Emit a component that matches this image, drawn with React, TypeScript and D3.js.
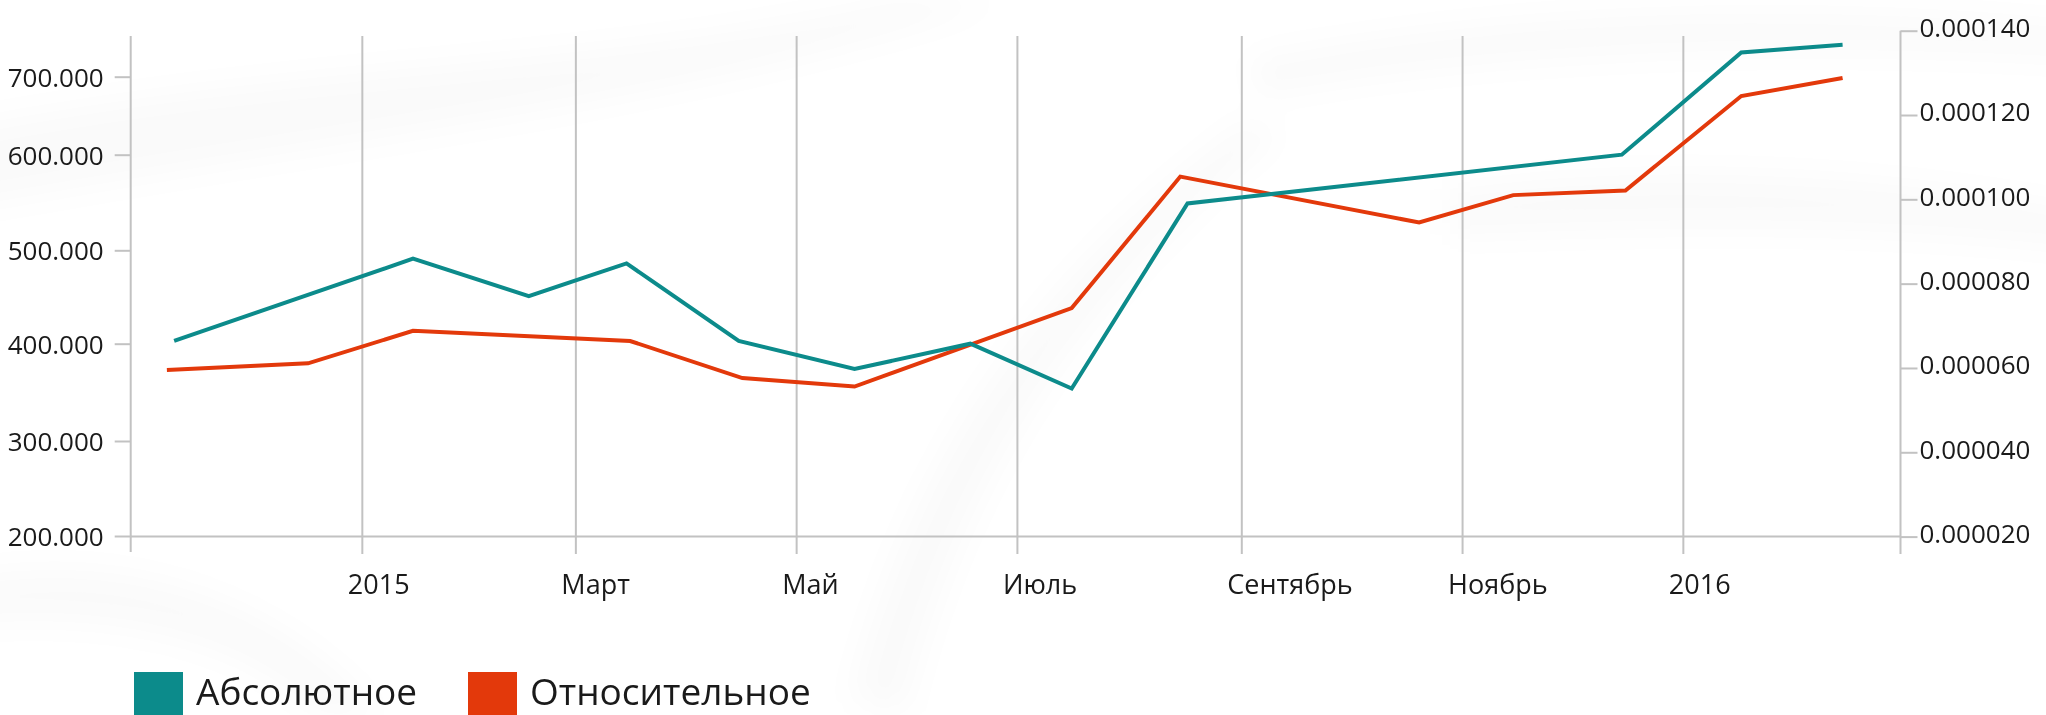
import { useEffect, useRef } from "react";
import * as d3 from "d3";

// Абсолютное (left axis)
const absDates = ["2014-11-10", "2015-01-15", "2015-02-16", "2015-03-15", "2015-04-15", "2015-05-17", "2015-06-18", "2015-07-16", "2015-08-17", "2015-12-15", "2016-01-17", "2016-02-14"];
const absValues = [403000, 491000, 451000, 486000, 403000, 374000, 400000, 354000, 549000, 600000, 731000, 741000];

// Относительное (right axis)
const relDates = ["2014-11-08", "2014-12-17", "2015-01-15", "2015-03-16", "2015-04-16", "2015-05-17", "2015-07-16", "2015-08-15", "2015-10-20", "2015-11-15", "2015-12-16", "2016-01-17", "2016-02-14"];
const relValues = [0.0000595, 0.0000611, 0.0000688, 0.0000664, 0.0000576, 0.0000556, 0.0000742, 0.0001054, 0.0000945, 0.000101, 0.0001021, 0.0001245, 0.0001288];

const xTickDates = ["2015-01-01", "2015-03-01", "2015-05-01", "2015-07-01", "2015-09-01", "2015-11-01", "2016-01-01"];
const xTickLabels = ["2015", "Март", "Май", "Июль", "Сентябрь", "Ноябрь", "2016"];
const leftTicks = [200000, 300000, 400000, 500000, 600000, 700000];
const rightTicks = [0.00002, 0.00004, 0.00006, 0.00008, 0.0001, 0.00012, 0.00014];
const seriesNames = ["Абсолютное", "Относительное"];
const colors = ["#0c8b8b", "#e3390b"];

function App() {
  const canvas = useRef<SVGSVGElement>(null);

  const drawChart = () => {
    const width = 2046;
    const height = 715;
    const left = 130.7;
    const right = 1900.5;
    const base = 536.5;
    const top = 36;
    const font = "'Open Sans', sans-serif";
    const parse = d3.timeParse("%Y-%m-%d");

    const svg = d3.select(canvas.current).attr("width", width).attr("height", height);
    svg.selectAll("*").remove();

    // faint smoke in the background
    const defs = svg.append("defs");
    defs.append("filter").attr("id", "blur").append("feGaussianBlur").attr("stdDeviation", 16);
    const bg = svg.append("g").attr("filter", "url(#blur)").attr("fill", "#000");
    const smoke = [
      "M-50,130 C300,60 600,70 900,0 L1000,0 C700,100 400,130 -50,210 Z",
      "M1450,190 C1650,160 1900,175 2100,215 L2100,250 C1900,225 1700,225 1450,235 Z",
      "M1250,60 C1500,10 1800,0 2100,30 L2100,60 C1800,40 1500,50 1260,95 Z",
      "M850,700 C900,500 1000,300 1250,120 L1280,135 C1050,320 950,520 905,715 Z",
      "M-50,580 C150,540 300,620 380,715 L320,715 C240,640 120,610 -50,625 Z",
    ];
    bg.selectAll("path").data(smoke).join("path").attr("d", d => d).attr("opacity", 0.02);

    const x = d3.scaleTime()
      .domain([parse("2014-10-29")!, parse("2016-03-01")!])
      .range([left, right]);
    const yL = d3.scaleLinear().domain(leftTicks).range([536, 441, 343.7, 250.3, 154.7, 76.7]);
    const yR = d3.scaleLinear().domain([0.00002, 0.00014]).range([536.6, 30.7]);

    const grid = "#c2c2c2";

    // vertical grid lines
    svg.append("g")
      .selectAll("line")
      .data(xTickDates)
      .join("line")
      .attr("x1", d => x(parse(d)!))
      .attr("x2", d => x(parse(d)!))
      .attr("y1", top)
      .attr("y2", 554)
      .attr("stroke", grid)
      .attr("stroke-width", 2);

    // axis lines
    svg.append("line").attr("x1", left).attr("x2", left).attr("y1", top).attr("y2", 552).attr("stroke", grid).attr("stroke-width", 2);
    svg.append("line").attr("x1", right).attr("x2", right).attr("y1", yR(0.00014)).attr("y2", 554).attr("stroke", grid).attr("stroke-width", 2);
    svg.append("line").attr("x1", left).attr("x2", right).attr("y1", base).attr("y2", base).attr("stroke", grid).attr("stroke-width", 2);

    // left axis
    const fmtL = d3.formatLocale({ decimal: ",", thousands: ".", grouping: [3], currency: ["", ""] }).format(",");
    const gL = svg.append("g").attr("transform", `translate(${left},0)`)
      .call(d3.axisLeft(yL).tickValues(leftTicks).tickSize(16).tickPadding(11).tickFormat(d => fmtL(d as number)));
    gL.select(".domain").remove();
    gL.selectAll(".tick line").attr("stroke", grid).attr("stroke-width", 2);
    gL.selectAll(".tick text").attr("font-size", 26).attr("font-family", font).attr("fill", "#1a1a1a").attr("dy", "0.36em");

    // right axis
    const gR = svg.append("g").attr("transform", `translate(${right},0)`)
      .call(d3.axisRight(yR).tickValues(rightTicks).tickSize(17).tickPadding(2).tickFormat(d => d3.format(".6f")(d as number)));
    gR.select(".domain").remove();
    gR.selectAll(".tick line").attr("stroke", grid).attr("stroke-width", 2);
    gR.selectAll(".tick text").attr("font-size", 26).attr("font-family", font).attr("fill", "#1a1a1a").attr("dy", "0.22em");

    // bottom axis labels
    const gX = svg.append("g").attr("transform", `translate(0,${base})`)
      .call(d3.axisBottom(x).tickValues(xTickDates.map(d => parse(d)!)).tickSize(0).tickPadding(0)
        .tickFormat((_, i) => xTickLabels[i]));
    gX.select(".domain").remove();
    gX.selectAll(".tick text")
      .attr("font-size", 27).attr("font-family", font).attr("fill", "#1a1a1a")
      .attr("text-anchor", "start").attr("dx", -15).attr("y", 57).attr("dy", 0);

    // lines
    const absData = absDates.map((d, i) => ({ date: parse(d)!, value: absValues[i] }));
    const relData = relDates.map((d, i) => ({ date: parse(d)!, value: relValues[i] }));
    const lineL = d3.line<{ date: Date; value: number }>().x(d => x(d.date)).y(d => yL(d.value));
    const lineR = d3.line<{ date: Date; value: number }>().x(d => x(d.date)).y(d => yR(d.value));
    svg.append("path").datum(relData).attr("d", lineR).attr("fill", "none").attr("stroke", colors[1]).attr("stroke-width", 4);
    svg.append("path").datum(absData).attr("d", lineL).attr("fill", "none").attr("stroke", colors[0]).attr("stroke-width", 4);

    // legend
    const legX = [134, 468];
    const legend = svg.append("g")
      .selectAll("g")
      .data(seriesNames)
      .join("g")
      .attr("transform", (_, i) => `translate(${legX[i]},672)`);
    legend.append("rect").attr("width", 49).attr("height", 50).attr("fill", (_, i) => colors[i]);
    legend.append("text")
      .attr("x", 62)
      .attr("y", 33)
      .attr("font-size", 37)
      .attr("font-family", font)
      .attr("fill", "#1a1a1a")
      .text(d => d);
  };

  useEffect(() => {
    drawChart();
  }, []);

  return (
    <div>
      <svg ref={canvas} style={{ position: "absolute", left: 0, top: 0, display: "block", background: "#fff" }} />
    </div>
  );
}

export default App;
